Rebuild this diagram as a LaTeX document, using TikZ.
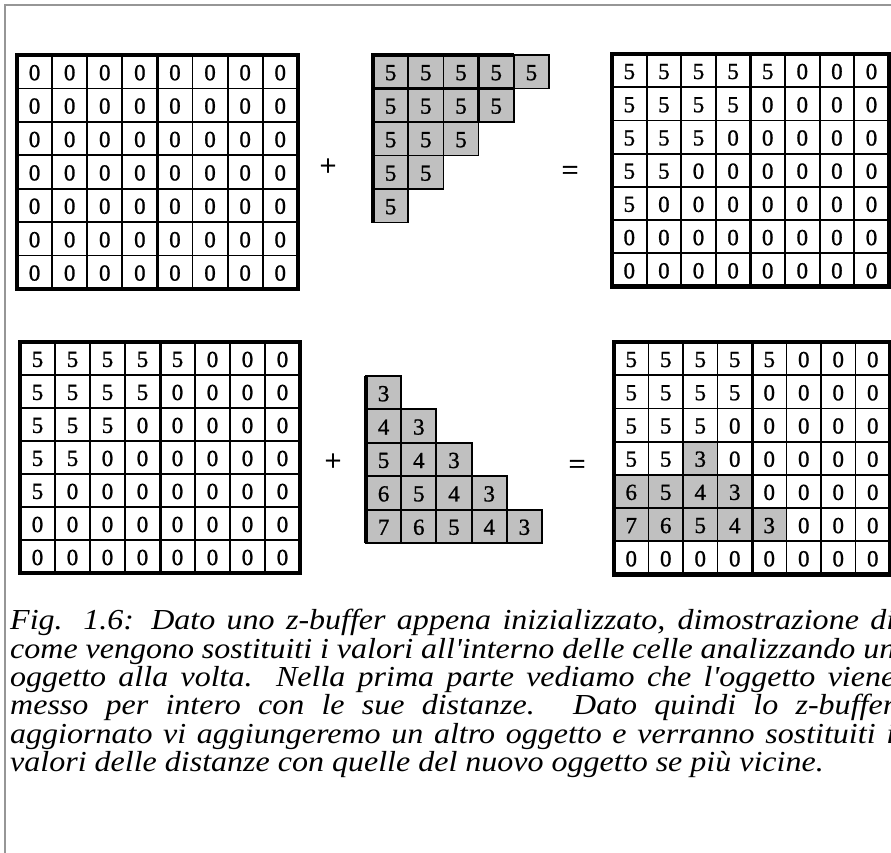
\documentclass[tikz,border=0pt]{standalone}
\usepackage{fontspec}
\setmainfont{Liberation Serif}
\newfontfamily\digitfont[FakeBold=1.0]{Liberation Serif}
\newfontfamily\capfont[FakeStretch=1.104]{Liberation Serif}
\definecolor{framegray}{RGB}{150,150,150}
\definecolor{cellgray}{RGB}{192,192,192}
\newcommand\capline[1]{\makebox[885pt][s]{#1}}
\tikzset{
  digit/.style={font=\digitfont\fontsize{23}{23}\selectfont, inner sep=0pt, anchor=center},
  sign/.style={font=\digitfont\fontsize{30}{30}\selectfont, inner sep=0pt, anchor=center},
  innerline/.style={line width=1.8pt, black},
  midline/.style={line width=3pt, black},
  outerline/.style={line width=4.5pt, black},
  trcell/.style={fill=cellgray, draw=black, line width=1.6pt},
  gcell/.style={fill=cellgray},
}
% #1 name, #2 x0, #3 y0, #4 w, #5 h, #6 rows
\newcommand\zgrid[6]{%
  \foreach \i in {1,...,7} {\draw[innerline] ({#2+\i*#4},#3) -- ({#2+\i*#4},{#3+7*#5});}
  \foreach \i in {1,...,6} {\draw[innerline] (#2,{#3+\i*#5}) -- ({#2+8*#4},{#3+\i*#5});}
  \draw[midline] ({#2+4*#4},#3) -- ({#2+4*#4},{#3+7*#5});
  \draw[outerline] (#2,#3) rectangle ({#2+8*#4},{#3+7*#5});
  \foreach \row [count=\r] in {#6} {
    \foreach \v [count=\c] in \row {
      \node[digit] (#1-\r-\c) at ({#2+(\c-0.5)*#4},{#3+(\r-0.5)*#5+1}) {\v};
    }
  }
}
\begin{document}
\begin{tikzpicture}[x=1pt,y=-1pt]
\useasboundingbox (0,0) rectangle (891,852);
\clip (0,0) rectangle (891,852);
\fill[white] (0,0) rectangle (891,852);
\draw[framegray, line width=1.5pt] (5,860) -- (5,5) -- (900,5);

% top-left grid: all zeros
\zgrid{ga}{17}{55}{35.1}{33.4}{{0,0,0,0,0,0,0,0},{0,0,0,0,0,0,0,0},{0,0,0,0,0,0,0,0},{0,0,0,0,0,0,0,0},{0,0,0,0,0,0,0,0},{0,0,0,0,0,0,0,0},{0,0,0,0,0,0,0,0}}

% top triangle of 5s
\foreach \r in {1,...,5} {
  \pgfmathtruncatemacro\n{6-\r}
  \foreach \c in {1,...,\n} {
    \draw[trcell] ({373+(\c-1)*35.2},{55+(\r-1)*33.5}) rectangle ({373+\c*35.2},{55+\r*33.5});
    \node[digit] (gb-\r-\c) at ({373+(\c-0.5)*35.2},{55+(\r-0.5)*33.5+1}) {5};
  }
}
\draw[outerline, line width=4pt] (373,{55+5*33.5}) -- (373,55) -- ({373+4*35.2},55);
\draw[midline] (373,{55+33.5}) -- ({373+4*35.2},{55+33.5});
\draw[midline] ({373+3*35.2},55) -- ({373+3*35.2},{55+2*33.5});

\node[sign] (plusa) at (328,167) {+};
\node[sign] (eqa) at (570,173) {=};

% top-right grid
\zgrid{gc}{612}{54}{34.6}{33.2}{{5,5,5,5,5,0,0,0},{5,5,5,5,0,0,0,0},{5,5,5,0,0,0,0,0},{5,5,0,0,0,0,0,0},{5,0,0,0,0,0,0,0},{0,0,0,0,0,0,0,0},{0,0,0,0,0,0,0,0}}

% bottom-left grid
\zgrid{gd}{20}{342}{35}{33}{{5,5,5,5,5,0,0,0},{5,5,5,5,0,0,0,0},{5,5,5,0,0,0,0,0},{5,5,0,0,0,0,0,0},{5,0,0,0,0,0,0,0},{0,0,0,0,0,0,0,0},{0,0,0,0,0,0,0,0}}

% bottom triangle 3..7
\foreach \r in {1,...,5} {
  \foreach \c in {1,...,\r} {
    \pgfmathtruncatemacro\val{\r+3-\c}
    \draw[trcell, line width=2pt] ({366+(\c-1)*35.2},{376+(\r-1)*33.4}) rectangle ({366+\c*35.2},{376+\r*33.4});
    \node[digit] (ge-\r-\c) at ({366+(\c-0.5)*35.2},{376+(\r-0.5)*33.4+1}) {\val};
  }
}
\draw[black, line width=3.5pt] (366,376) -- (366,{376+5*33.4});

\node[sign] (plusb) at (333,462) {+};
\node[sign] (eqb) at (577,467) {=};

% bottom-right grid with gray cells
\foreach \r/\c in {4/3,5/1,5/2,5/3,5/4,6/1,6/2,6/3,6/4,6/5} {
  \fill[gcell] ({614+(\c-1)*34.5},{342+(\r-1)*33.2}) rectangle ({614+\c*34.5},{342+\r*33.2});
}
\zgrid{gf}{614}{342}{34.5}{33.2}{{5,5,5,5,5,0,0,0},{5,5,5,5,0,0,0,0},{5,5,5,0,0,0,0,0},{5,5,3,0,0,0,0,0},{6,5,4,3,0,0,0,0},{7,6,5,4,3,0,0,0},{0,0,0,0,0,0,0,0}}

% caption
\node[anchor=north west, align=left, inner sep=0pt,
      font=\capfont\itshape\fontsize{29}{28.4}\selectfont] (cap) at (10,609)
{\capline{Fig. 1.6: Dato uno z-buffer appena inizializzato, dimostrazione di}\\
\capline{come vengono sostituiti i valori all'interno delle celle analizzando un}\\
\capline{oggetto alla volta. Nella prima parte vediamo che l'oggetto viene}\\
\capline{messo per intero con le sue distanze. Dato quindi lo z-buffer}\\
\capline{aggiornato vi aggiungeremo un altro oggetto e verranno sostituiti i}\\
valori delle distanze con quelle del nuovo oggetto se più vicine.};
\end{tikzpicture}
\end{document}
